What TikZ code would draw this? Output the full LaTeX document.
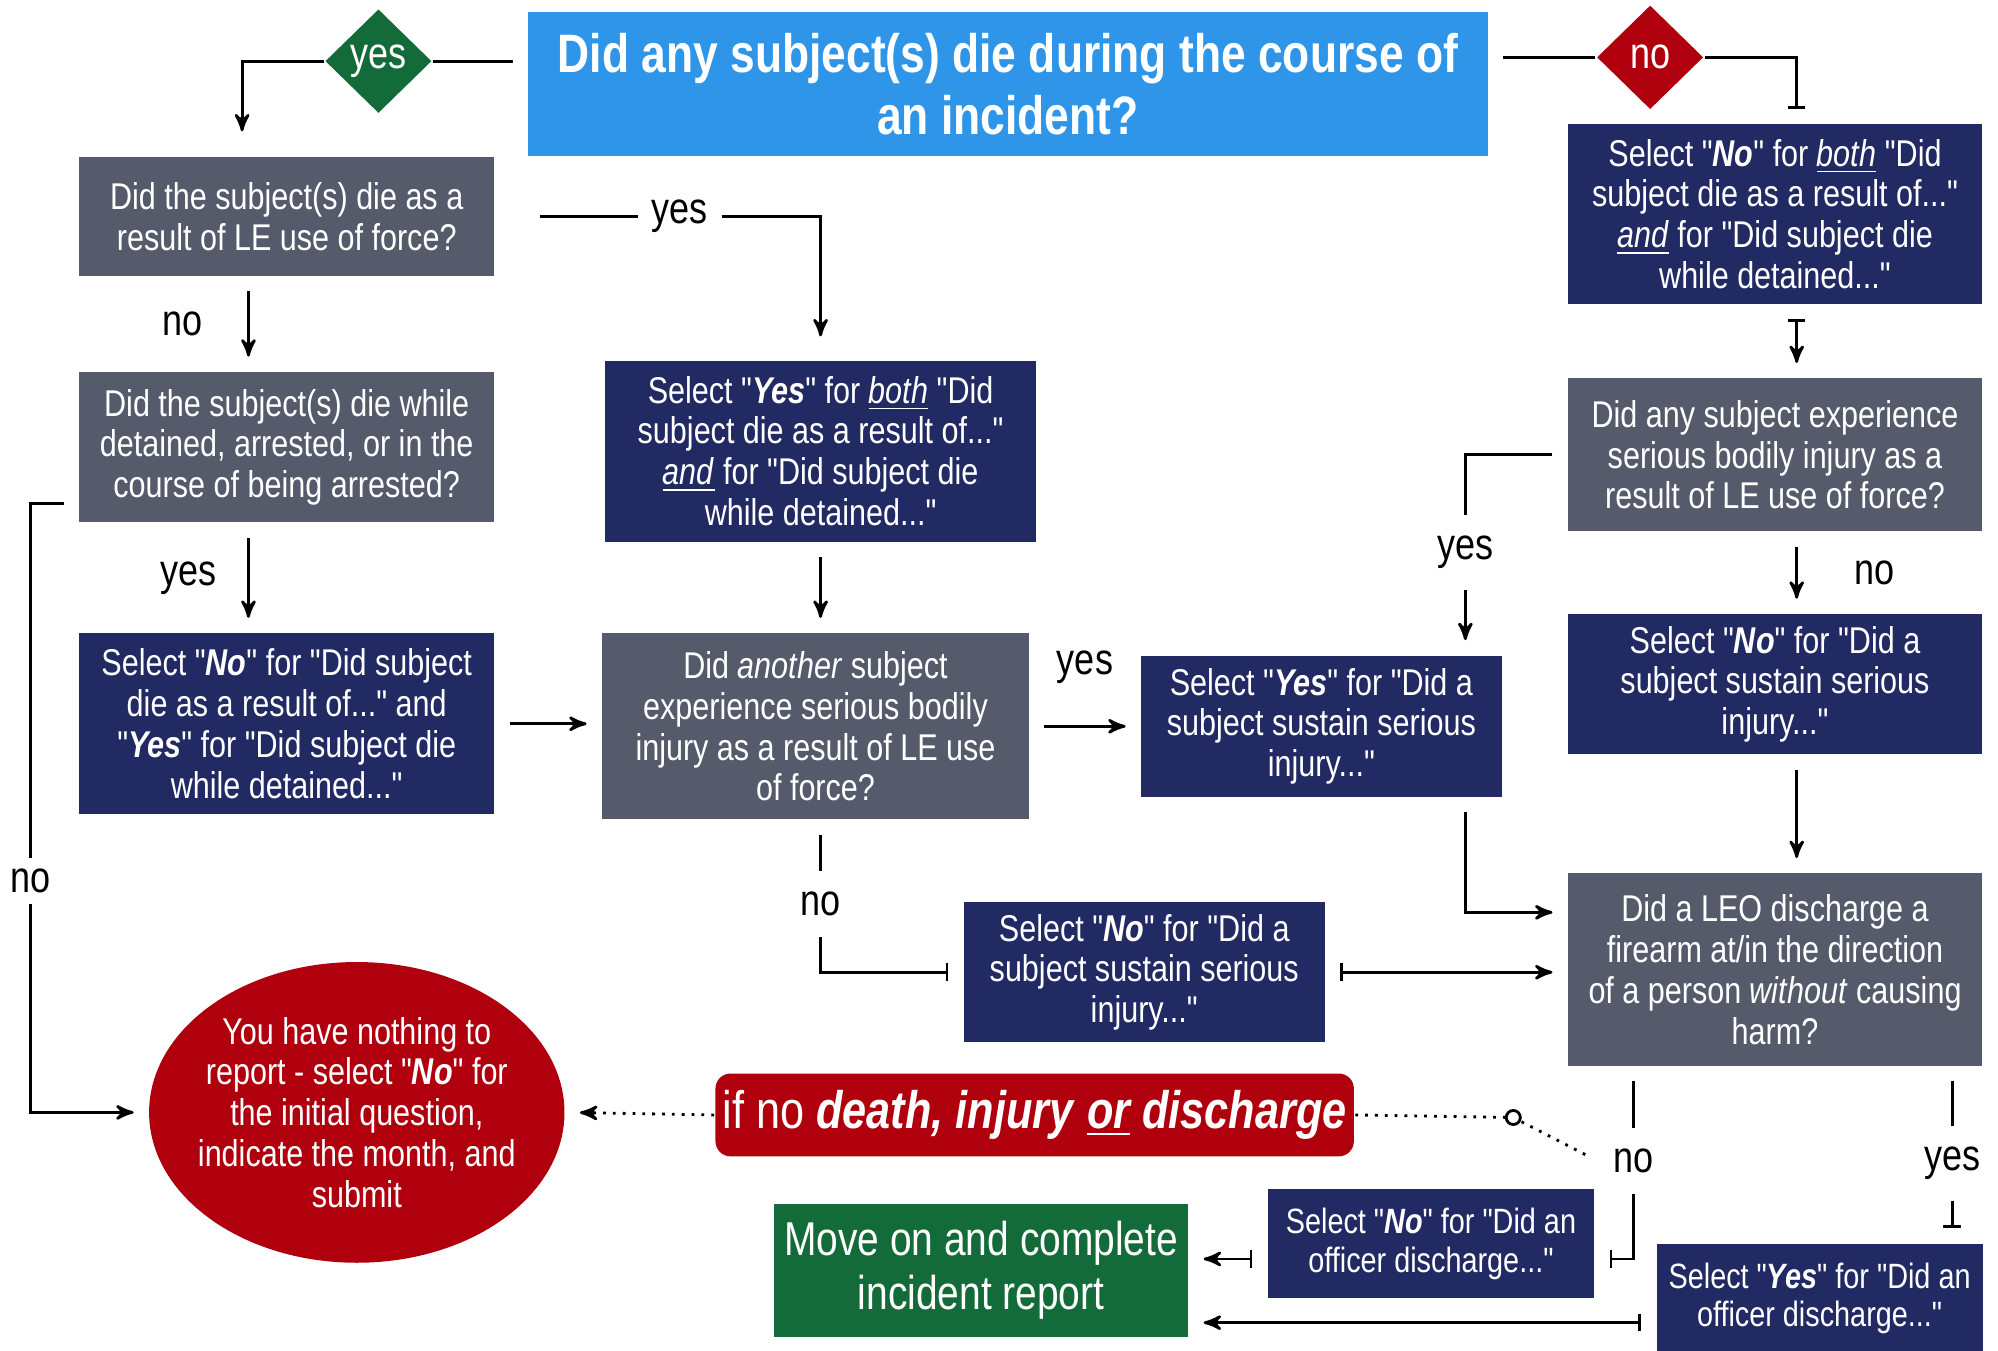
\documentclass[tikz,border=0pt]{standalone}
\usepackage{fontspec}
\setmainfont[FakeStretch=0.82, Ligatures=TeXOff]{Liberation Sans}
\usetikzlibrary{arrows,arrows.meta,shapes,calc}
\definecolor{askgrey}{HTML}{565B6B}
\definecolor{picknavy}{HTML}{222A63}
\definecolor{titleblue}{HTML}{2F95E8}
\definecolor{goon}{HTML}{136B3A}
\definecolor{stopred}{HTML}{B0000E}
\newcommand{\px}{0.012742cm}
\newcommand{\bi}[1]{\textbf{\textit{#1}}}
\newcommand{\ui}[1]{\underline{\textit{#1}}}
\tikzstyle{box} = [rectangle, text=white, align=center, inner sep=0pt,
    font=\fontsize{10.6}{11.6}\selectfont]
\tikzstyle{ask} = [box, fill=askgrey]
\tikzstyle{pick} = [box, fill=picknavy]
\tikzstyle{lbl} = [fill=white, inner xsep=4pt, inner ysep=6pt,
    font=\fontsize{12.5}{13}\selectfont]
\tikzstyle{gate} = [diamond, text=white, inner sep=0pt, minimum width=84*\px,
    minimum height=82*\px, font=\fontsize{12.5}{12.5}\selectfont]
\tikzset{sz/.style 2 args={minimum width=#1*\px, minimum height=#2*\px},
         bar/.tip={Bar[width=5pt]}}

\begin{document}
\begin{tikzpicture}[x=\px, y=-\px, >=stealth', thick,
                    shorten >=4pt, shorten <=4pt]
  \useasboundingbox (0,0) rectangle (1568,1060);

  % boxes
  \node[box, fill=titleblue, sz={753}{113},
        font=\bfseries\fontsize{15.4}{17.4}\selectfont] (title) at (791,66)
        {Did any subject(s) die during the course of\\an incident?};
  \node[gate, fill=goon] (yesd) at (297,48) {yes};
  \node[gate, fill=stopred] (nod) at (1295,45) {no};

  \node[ask, sz={326}{93}] (q1) at (225,170)
        {Did the subject(s) die as a\\result of LE use of force?};
  \node[ask, sz={326}{118}] (q2) at (225,351)
        {Did the subject(s) die while\\detained, arrested, or in the\\course of being arrested?};
  \node[pick, sz={326}{142}] (s1) at (225,568)
        {Select "\bi{No}" for "Did subject\\die as a result of..." and\\"\bi{Yes}" for "Did subject die\\while detained..."};
  \node[pick, sz={338}{142}] (s2) at (644,354)
        {Select "\bi{Yes}" for \ui{both} "Did\\subject die as a result of..."\\\ui{and} for "Did subject die\\while detained..."};
  \node[ask, sz={335}{146}] (q3) at (640,570)
        {Did \textit{another} subject\\experience serious bodily\\injury as a result of LE use\\of force?};
  \node[pick, sz={283}{111}] (s3) at (1037,570)
        {Select "\bi{Yes}" for "Did a\\subject sustain serious\\injury..."};
  \node[pick, sz={283}{110}] (s4) at (898,763)
        {Select "\bi{No}" for "Did a\\subject sustain serious\\injury..."};
  \node[pick, sz={325}{141}] (s5) at (1393,168)
        {Select "\bi{No}" for \ui{both} "Did\\subject die as a result of..."\\\ui{and} for "Did subject die\\while detained..."};
  \node[ask, sz={325}{120}] (q4) at (1393,357)
        {Did any subject experience\\serious bodily injury as a\\result of LE use of force?};
  \node[pick, sz={325}{110}] (s6) at (1393,537)
        {Select "\bi{No}" for "Did a\\subject sustain serious\\injury..."};
  \node[ask, sz={325}{151}] (q5) at (1393,761)
        {Did a LEO discharge a\\firearm at/in the direction\\of a person \textit{without} causing\\harm?};
  \node[pick, sz={256}{85}, font=\fontsize{10}{11}\selectfont] (s7) at (1123,976)
        {Select "\bi{No}" for "Did an\\officer discharge..."};
  \node[pick, sz={256}{86}, font=\fontsize{10}{11}\selectfont] (s8) at (1428,1019)
        {Select "\bi{Yes}" for "Did an\\officer discharge..."};
  \node[box, fill=goon, sz={325}{105}, font=\fontsize{13.5}{15.5}\selectfont] (done) at (770,997)
        {Move on and complete\\incident report};
  \node[box, fill=stopred, rounded corners=0.15cm, sz={501}{65},
        font=\fontsize{15}{17}\selectfont] (cond) at (812,875)
        {if no \bi{death, injury} \bi{\underline{or}} \bi{discharge}};
  \node[ellipse, fill=stopred, sz={326}{236}] (none) at (280,873) {};
  \node[box] at (none) {You have nothing to\\report - select "\bi{No}" for\\the initial question,\\indicate the month, and\\submit};

  % connectors
  \draw[shorten >=0pt] (title.west |- yesd) -- (yesd.east);
  \draw[->, shorten <=0pt, shorten >=7pt] (yesd.west) -| ($(q1.north)+(-35,0)$);
  \draw[shorten >=0pt] (title.east |- nod) -- (nod.west);
  \draw[-bar, shorten <=0pt] (nod.east) -| ($(s5.north)+(17,0)$);

  \draw[->] ($(q1.south)+(-30,0)$) -- node[left=0.33cm, font=\fontsize{12.5}{13}\selectfont] {no} ($(q2.north)+(-30,0)$);
  \draw[->] ($(q2.south)+(-30,0)$) -- node[left=0.19cm, font=\fontsize{12.5}{13}\selectfont] {yes} ($(s1.north)+(-30,0)$);
  \draw[->] (s1.east) -- (s1.east -| q3.west);
  \draw[->, shorten <=12.5pt, shorten >=6.5pt] (q1.east) -| node[pos=0.283, lbl] {yes} (s2.north);
  \draw[->] (s2.south) -- (s2.south |- q3.north);
  \draw[->] (q3.east) -- node[above=0.3cm, font=\fontsize{12.5}{13}\selectfont] {yes} (s3.west);
  \draw[-bar] ($(q3.south)+(4,0)$) |- node[pos=0.275, lbl] {no} (s4.west);
  \draw[bar->] (s4.east) -- (s4.east -| q5.west);
  \draw[->] ($(s3.south)+(113,0)$) |- ($(q5.west)+(0,-45)$);

  \draw[bar->] ($(s5.south)+(17,0)$) -- ($(q4.north)+(17,0)$);
  \draw[->] (q4.west) -| node[pos=0.745, lbl] {yes} ($(s3.north)+(113,0)$);
  \draw[->] ($(q4.south)+(17,0)$) -- node[right=0.45cm, font=\fontsize{12.5}{13}\selectfont] {no} ($(s6.north)+(17,0)$);
  \draw[->] ($(s6.south)+(17,0)$) -- ($(q5.north)+(17,0)$);

  \draw[-bar] ($(q5.south)+(-111,0)$) |- node[pos=0.245, lbl] (q5no) {no} ($(s7.east)+(0,12)$);
  \draw[-bar] ($(q5.south)+(139,0)$) -- node[pos=0.55, lbl] {yes} ($(s8.north)+(104,0)$);
  \draw[bar->] ($(s7.west)+(0,12)$) -- ($(done.east)+(0,-9)$);
  \draw[bar->] ($(s8.west)+(0,19)$) -- ($(done.east)+(0,41)$);

  \coordinate (kink) at ($(cond.east)+(124,2)$);
  \draw[dotted, ->, shorten <=0pt] (cond.west) -- (none.east);
  \draw[dotted, shorten <=0pt] (cond.east) -- (kink) -- (q5no.west);
  \draw[fill=white] (kink) circle (2pt);

  \draw[->] ($(q2.west)+(0,44)$) -- ++(-37,0)
        -- node[pos=0.62, lbl, inner ysep=3pt] {no} ++(0,478) -- (none.west);
\end{tikzpicture}
\end{document}
